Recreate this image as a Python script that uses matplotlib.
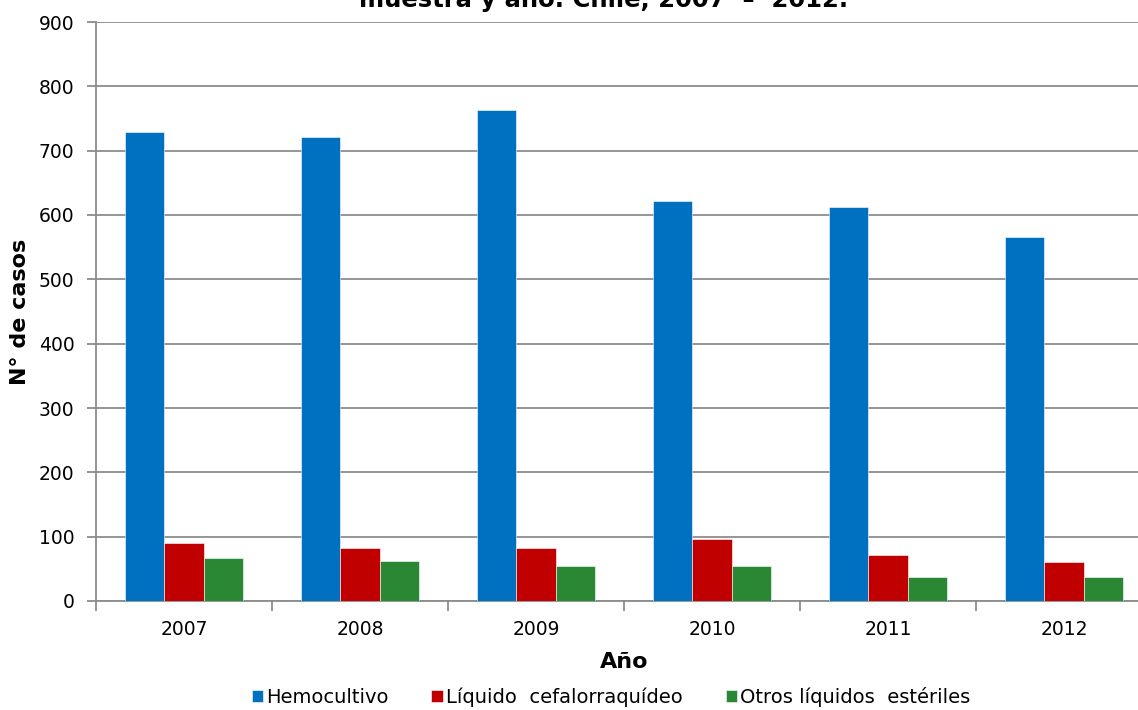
import matplotlib.pyplot as plt
import numpy as np

# datos
anios = ["2007", "2008", "2009", "2010", "2011", "2012"]
hemocultivo = [729, 721, 763, 622, 612, 566]
liquido_cefalo = [90, 82, 82, 97, 72, 61]
otros_liquidos = [67, 62, 54, 54, 38, 38]

series = ["Hemocultivo", "Líquido  cefalorraquídeo", "Otros líquidos  estériles"]
colores = ["#0070C0", "#C00000", "#2A8733"]

plt.rcParams["font.family"] = ["DejaVu Sans"]

fig = plt.figure(figsize=(11.38, 7.10), dpi=100)
# el área del gráfico se sale un poco por la derecha, como en el original
ax = fig.add_axes([96 / 1138, 109 / 710, 1056 / 1138, 579 / 710])

x = np.arange(len(anios))
ancho = 1 / 4.5  # ancho de hueco 150 %
for i, (vals, nombre, col) in enumerate(zip([hemocultivo, liquido_cefalo, otros_liquidos], series, colores)):
    ax.bar(x + (i - 1) * ancho, vals, width=ancho, color=col, label=nombre,
           edgecolor="white", linewidth=0.4, zorder=3)

ax.set_xlim(-0.5, len(anios) - 0.5)
ax.set_ylim(0, 900)
ax.set_yticks(range(0, 901, 100))
ax.yaxis.grid(True, color="#8c8c8c", linewidth=1.3, zorder=0)

# marcas del eje x entre categorías
ax.set_xticks(np.arange(-0.5, len(anios) + 0.5, 1))
ax.set_xticklabels([])
ax.set_xticks(x, minor=True)
ax.set_xticklabels(anios, minor=True)
ax.tick_params(axis="x", which="major", length=7, width=1.3, color="#8c8c8c", direction="out")
ax.tick_params(axis="x", which="minor", length=0, labelsize=13.5, pad=14)
ax.tick_params(axis="y", length=6.5, width=1.3, color="#8c8c8c", labelsize=13.5, pad=9)

for lado in ["top", "right"]:
    ax.spines[lado].set_visible(False)
for lado in ["left", "bottom"]:
    ax.spines[lado].set_color("#8c8c8c")
    ax.spines[lado].set_linewidth(1.3)

ax.set_xlabel("Año", fontsize=16, fontweight="bold", labelpad=9)
ax.set_ylabel("N° de casos", fontsize=16, fontweight="bold", labelpad=6)

# el título queda cortado arriba, igual que en la imagen original
fig.text(604 / 1138, 1 - 7 / 710, "muestra y año. Chile, 2007  –  2012.",
         ha="center", va="baseline", fontsize=17.5, fontweight="bold")

fig.legend(loc="center", bbox_to_anchor=(611 / 1138, 1 - 697 / 710), ncol=3,
           frameon=False, fontsize=14, handlelength=0.6, handleheight=0.6,
           handletextpad=0.15, columnspacing=2.2)

fig.savefig("out.png", dpi=100)
